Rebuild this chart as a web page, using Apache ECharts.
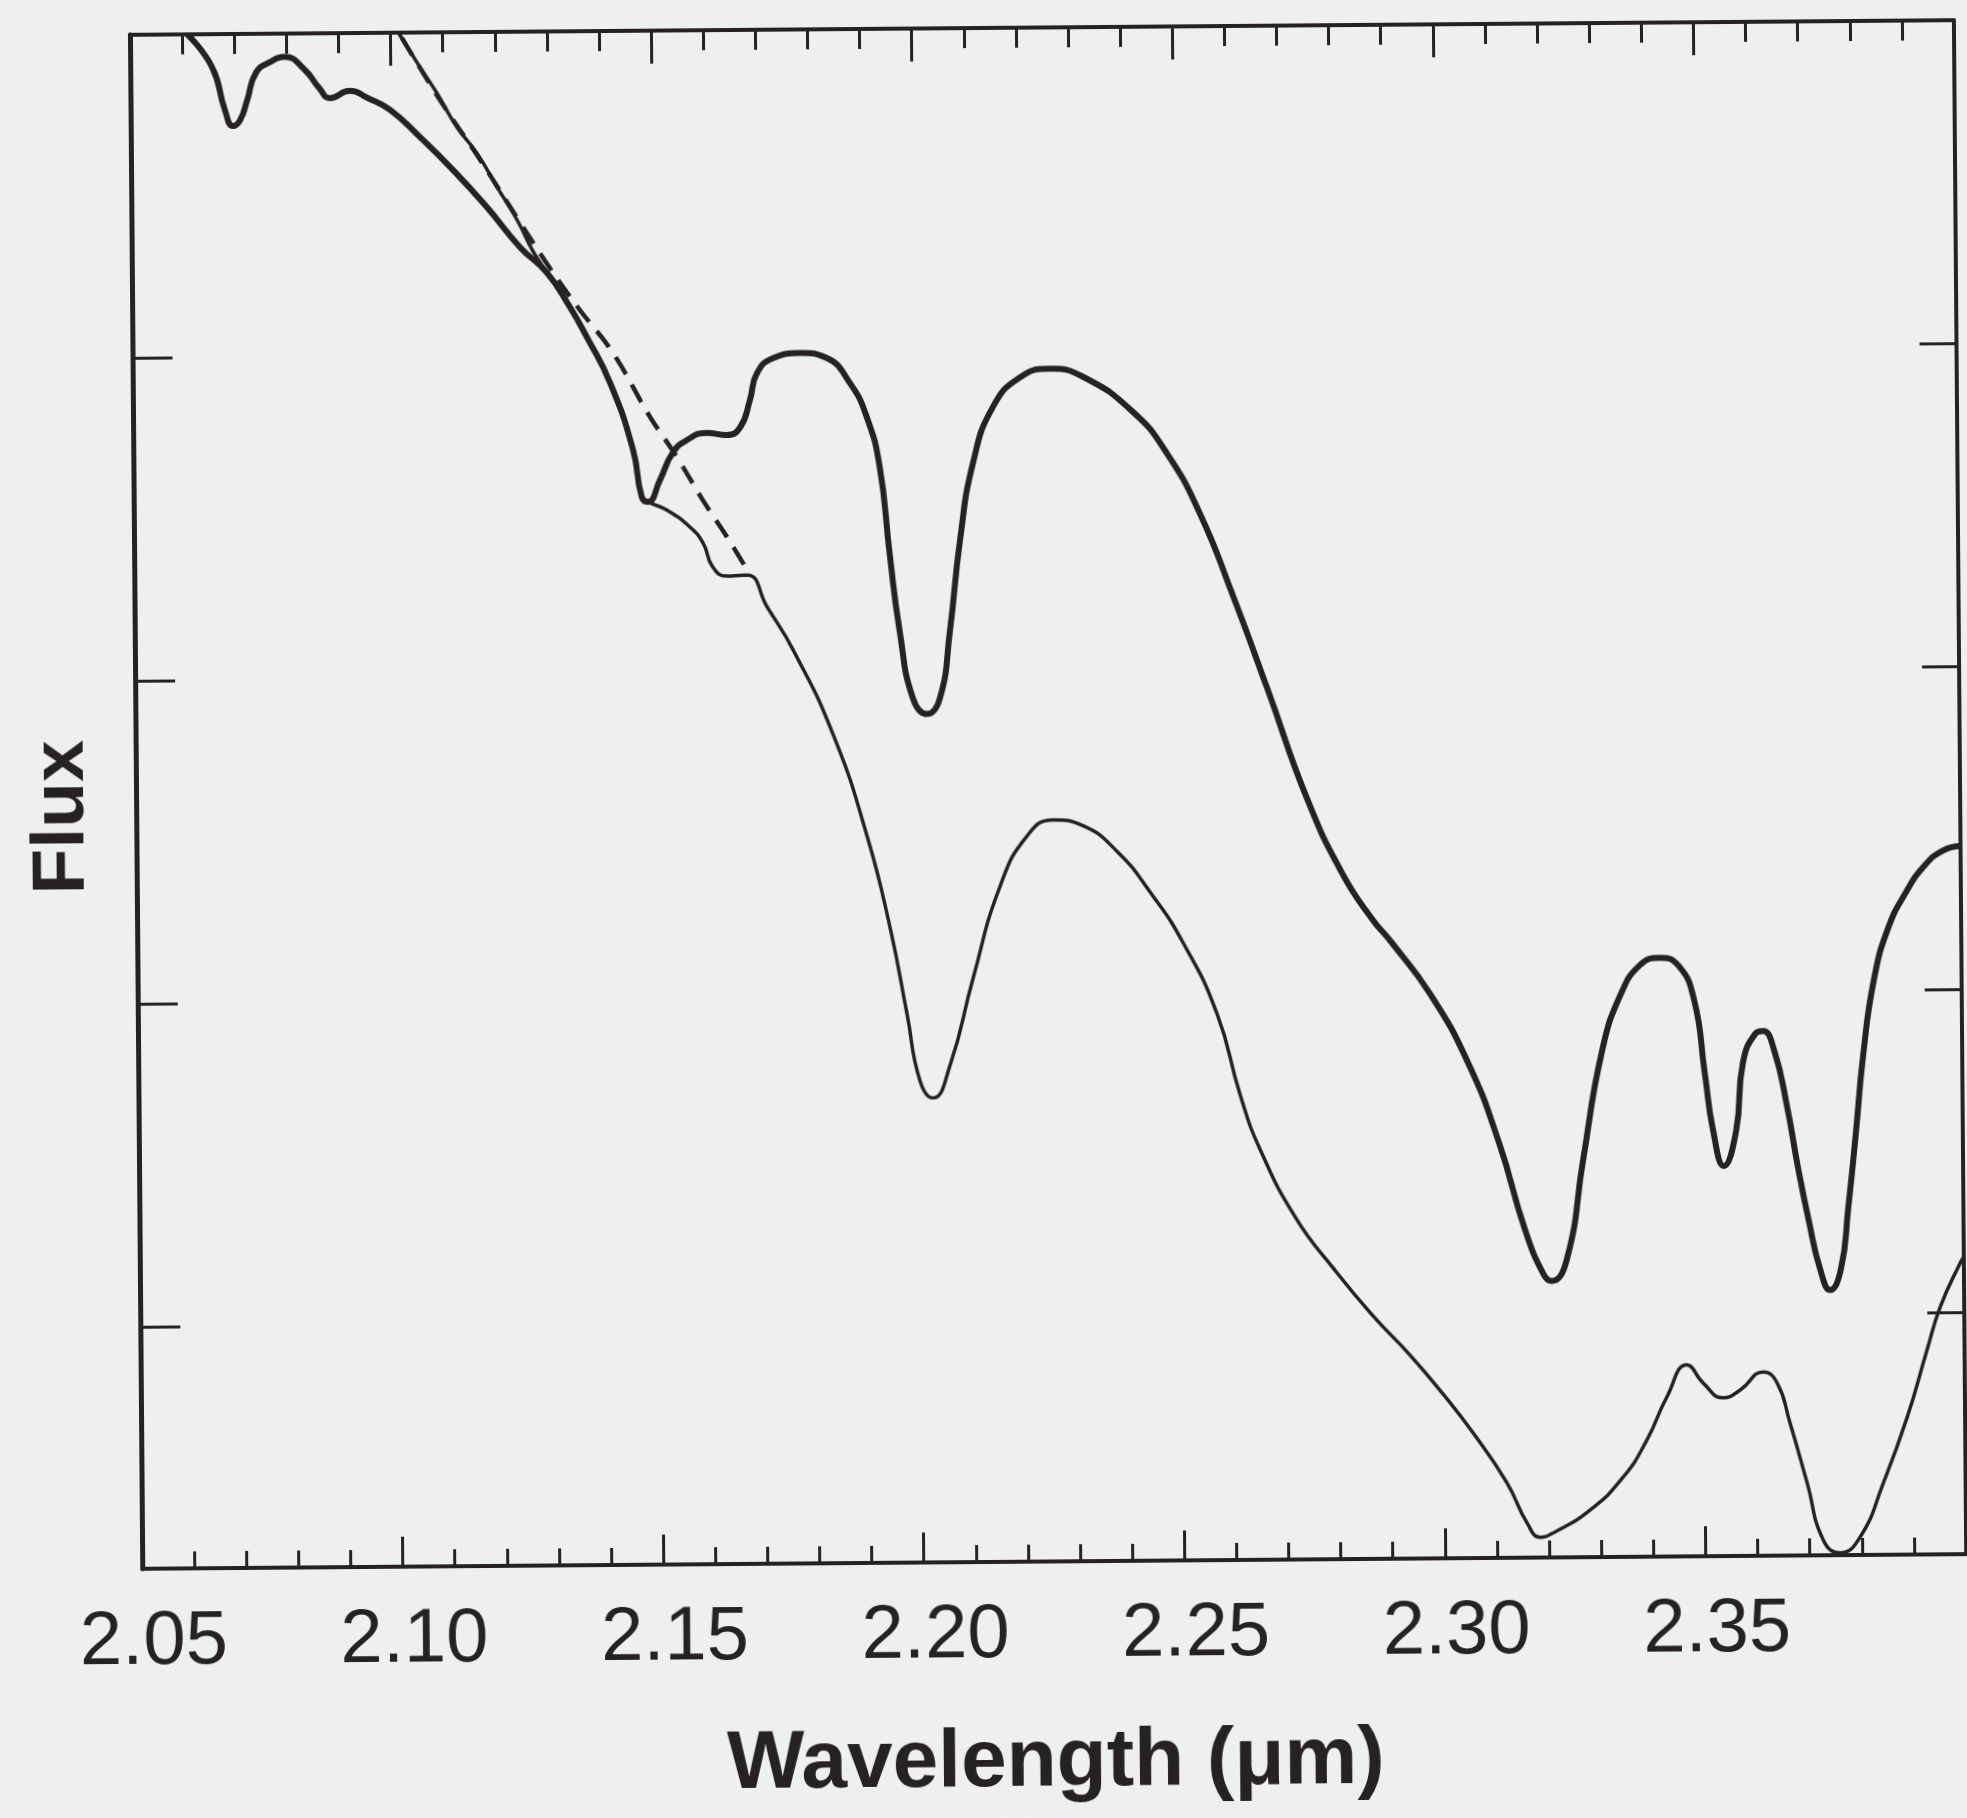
<!DOCTYPE html>
<html>
<head>
<meta charset="utf-8">
<script src="https://cdn.jsdelivr.net/npm/echarts@6/dist/echarts.min.js"></script>
<style>
  html, body { margin: 0; padding: 0; background: #eeeff1; overflow: hidden; }
  /* the scanned figure sits very slightly tilted on the page */
  #chart { width: 1967px; height: 1818px; transform: rotate(-0.46deg); }
</style>
</head>
<body>
<div id="chart"></div>
<script>
// Wavelength (μm) and flux (arbitrary units) of the three traces.
// Upper, heavy spectrum.
const thickWl = [
  2.0610, 2.0657, 2.0681, 2.0696, 2.0710, 2.0724, 2.0741, 2.0768, 2.0797, 2.0835,
  2.0862, 2.0883, 2.0921, 2.0956, 2.0998, 2.1055, 2.1118, 2.1182, 2.1245, 2.1297,
  2.1340, 2.1372, 2.1416, 2.1459, 2.1475, 2.1487, 2.1510, 2.1535, 2.1563, 2.1601,
  2.1639, 2.1665, 2.1684, 2.1698, 2.1729, 2.1781, 2.1832, 2.1876, 2.1908, 2.1932,
  2.1950, 2.1968, 2.1992, 2.2019, 2.2044, 2.2064, 2.2085, 2.2111, 2.2150, 2.2203,
  2.2260, 2.2324, 2.2419, 2.2483, 2.2546, 2.2608, 2.2672, 2.2747, 2.2813, 2.2870,
  2.2906, 2.2980, 2.3052, 2.3110, 2.3158, 2.3194, 2.3209, 2.3239, 2.3271, 2.3309,
  2.3346, 2.3383, 2.3420, 2.3456, 2.3486, 2.3506, 2.3521, 2.3541, 2.3565, 2.3579,
  2.3603, 2.3618, 2.3639, 2.3663, 2.3683, 2.3704, 2.3724, 2.3743, 2.3764, 2.3779,
  2.3795, 2.3810, 2.3832, 2.3860, 2.3895, 2.3930, 2.3965, 2.4000
];
const thickFlux = [
  5.000, 4.898, 4.765, 4.715, 4.733, 4.795, 4.879, 4.912, 4.928, 4.887,
  4.831, 4.799, 4.821, 4.798, 4.761, 4.676, 4.573, 4.458, 4.333, 4.252,
  4.146, 4.053, 3.910, 3.702, 3.556, 3.541, 3.608, 3.692, 3.732, 3.753,
  3.746, 3.770, 3.854, 3.937, 3.983, 3.998, 3.982, 3.904, 3.798, 3.643,
  3.370, 3.132, 2.927, 2.877, 2.926, 3.131, 3.415, 3.653, 3.826, 3.918,
  3.943, 3.917, 3.807, 3.679, 3.490, 3.235, 2.949, 2.605, 2.374, 2.231,
  2.160, 1.998, 1.783, 1.535, 1.268, 1.125, 1.106, 1.177, 1.480, 1.817,
  1.993, 2.082, 2.104, 2.081, 1.976, 1.743, 1.567, 1.458, 1.566, 1.776,
  1.866, 1.875, 1.816, 1.642, 1.453, 1.279, 1.137, 1.071, 1.136, 1.325,
  1.560, 1.798, 2.033, 2.191, 2.302, 2.382, 2.428, 2.443
];

// Lower, light spectrum.
const thinWl = [
  2.1015, 2.1056, 2.1088, 2.1126, 2.1164, 2.1202, 2.1240, 2.1270, 2.1297, 2.1340,
  2.1372, 2.1416, 2.1459, 2.1475, 2.1487, 2.1523, 2.1567, 2.1592, 2.1610, 2.1637,
  2.1676, 2.1714, 2.1763, 2.1838, 2.1902, 2.1945, 2.1976, 2.2000, 2.2025, 2.2058,
  2.2103, 2.2156, 2.2209, 2.2259, 2.2317, 2.2381, 2.2444, 2.2507, 2.2571, 2.2614,
  2.2651, 2.2719, 2.2791, 2.2864, 2.2936, 2.2997, 2.3056, 2.3120, 2.3158, 2.3183,
  2.3208, 2.3279, 2.3343, 2.3389, 2.3428, 2.3467, 2.3498, 2.3536, 2.3569, 2.3613,
  2.3640, 2.3664, 2.3696, 2.3726, 2.3758, 2.3797, 2.3842, 2.3889, 2.3928, 2.3954,
  2.3993, 2.4000
];
const thinFlux = [
  5.000, 4.893, 4.812, 4.706, 4.625, 4.520, 4.417, 4.320, 4.252, 4.146,
  4.053, 3.910, 3.702, 3.556, 3.541, 3.515, 3.462, 3.412, 3.338, 3.309,
  3.312, 3.212, 3.079, 2.818, 2.501, 2.215, 1.949, 1.741, 1.688, 1.790,
  2.056, 2.340, 2.497, 2.546, 2.527, 2.448, 2.321, 2.162, 1.941, 1.690,
  1.522, 1.307, 1.149, 1.005, 0.880, 0.762, 0.637, 0.482, 0.357, 0.313,
  0.326, 0.396, 0.497, 0.611, 0.744, 0.843, 0.786, 0.740, 0.764, 0.819,
  0.784, 0.660, 0.474, 0.297, 0.257, 0.306, 0.472, 0.676, 0.883, 1.016,
  1.152, 1.170
];

// Dashed continuum.
const continuumWl = [
  2.1022, 2.1094, 2.1170, 2.1245, 2.1302, 2.1359, 2.1422, 2.1492, 2.1543, 2.1592,
  2.1638, 2.1676
];
const continuumFlux = [
  4.983, 4.790, 4.604, 4.411, 4.268, 4.137, 4.003, 3.804, 3.679, 3.545,
  3.430, 3.328
];

// Axis ranges and tick positions.
const wlMin = 2.05, wlMax = 2.40, wlStep = 0.05;
const fluxMin = 0.25, fluxMax = 5;
const fluxTicks = [1, 2, 3, 4];

const ink = '#262224';
const font = 'Liberation Sans';
const zip = (xs, ys) => xs.map((x, i) => [x, ys[i]]);

function xAxisDef(position, majorLen, minorLen, withLabels) {
  return {
    type: 'value', position: position,
    min: wlMin, max: wlMax, interval: wlStep,
    name: withLabels ? 'Wavelength (μm)' : '',
    nameLocation: 'middle', nameGap: 160,
    nameTextStyle: { fontFamily: font, fontWeight: 'bold', fontSize: 82, color: ink },
    axisLine: { show: true, onZero: false, lineStyle: { color: ink, width: 4 } },
    axisTick: { show: true, inside: true, length: majorLen, lineStyle: { color: ink, width: 3 } },
    minorTick: { show: true, splitNumber: 5, length: minorLen, lineStyle: { color: ink, width: 3 } },
    axisLabel: {
      show: withLabels, margin: 36, fontSize: 76, fontFamily: font, color: ink,
      padding: [0, 0, 0, 22],
      showMaxLabel: false, formatter: v => v.toFixed(2)
    },
    splitLine: { show: false }, minorSplitLine: { show: false }
  };
}

function yAxisDef(position, tickLen, lineWidth, withName) {
  return {
    type: 'value', position: position,
    min: fluxMin, max: fluxMax, interval: 1,
    name: withName ? 'Flux' : '',
    nameLocation: 'middle', nameGap: 36,
    nameTextStyle: { fontFamily: font, fontWeight: 'bold', fontSize: 75, color: ink,
                     padding: [0, 30, 0, 0] },
    axisLine: { show: true, onZero: false, lineStyle: { color: ink, width: lineWidth } },
    axisTick: { show: true, inside: true, length: tickLen, customValues: fluxTicks,
                lineStyle: { color: ink, width: 3 } },
    axisLabel: { show: false },
    splitLine: { show: false }
  };
}

const chart = echarts.init(document.getElementById('chart'), null, { renderer: 'canvas' });
chart.setOption({
  backgroundColor: '#eeeff1',
  animation: false,
  grid: { left: 137, top: 28, width: 1824, height: 1534, containLabel: false, outerBoundsMode: 'none' },
  xAxis: [
    xAxisDef('bottom', 30, 17, true),
    xAxisDef('top', 33, 20, false)
  ],
  yAxis: [
    yAxisDef('left', 40, 5, true),
    yAxisDef('right', 37, 4, false)
  ],
  series: [
    {
      type: 'line', data: zip(thickWl, thickFlux),
      showSymbol: false, symbol: 'none', smooth: 0.5,
      lineStyle: { color: ink, width: 6 }, z: 4
    },
    {
      type: 'line', data: zip(thinWl, thinFlux),
      showSymbol: false, symbol: 'none', smooth: 0.5,
      lineStyle: { color: ink, width: 3.5 }, z: 3
    },
    {
      type: 'line', data: zip(continuumWl, continuumFlux),
      showSymbol: false, symbol: 'none', smooth: 0.4,
      lineStyle: { color: ink, width: 4.5, type: [20, 12] }, z: 2
    }
  ]
});
</script>
</body>
</html>
